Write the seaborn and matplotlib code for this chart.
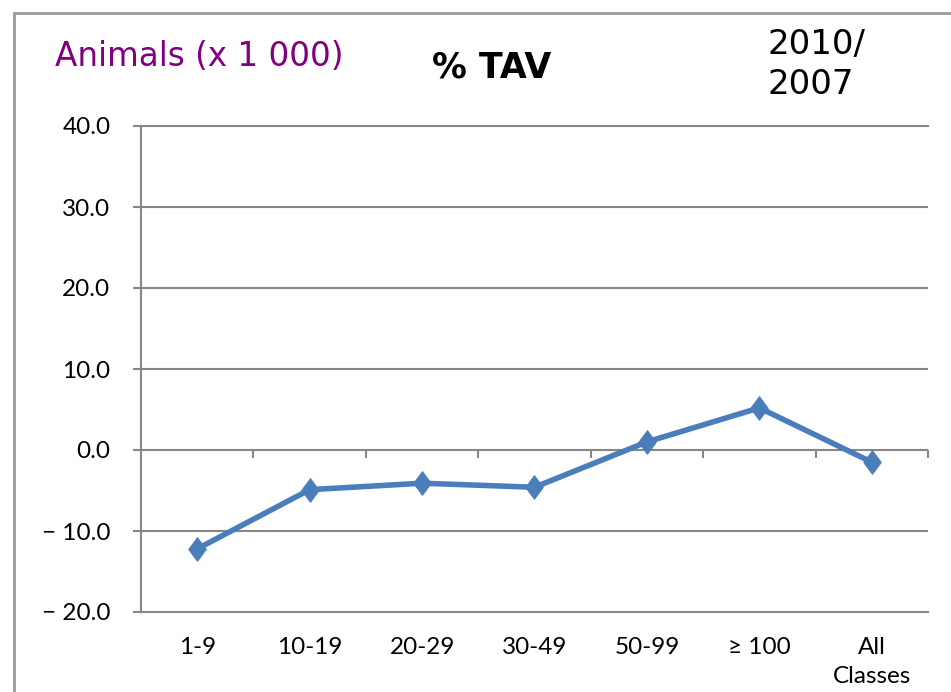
import numpy as np
import pandas as pd
import matplotlib
matplotlib.use("Agg")
import matplotlib.pyplot as plt
from matplotlib.lines import Line2D
import seaborn as sns

# data
size_classes = ["1-9", "10-19", "20-29", "30-49", "50-99", "\u2265 100", "All\nClasses"]
pct_change = [-12.2, -4.9, -4.1, -4.6, 1.0, 5.2, -1.5]
y_ticks = [-20, -10, 0, 10, 20, 30, 40]

df = pd.DataFrame({"size_class": size_classes, "change": pct_change})

sns.set_theme(style="white")
plt.rcParams["font.family"] = ["DejaVu Sans"]

grey = "#878787"
blue = "#4A7EBB"

fig = plt.figure(figsize=(9.51, 6.92), dpi=100)
ax = fig.add_axes([141 / 951, 1 - 612 / 692, (928 - 141) / 951, (612 - 126) / 692])

# tall diamond like the stretched excel marker
diamond = [(0, -1.35), (1, 0), (0, 1.35), (-1, 0), (0, -1.35)]
sns.lineplot(data=df, x="size_class", y="change", sort=False, ax=ax,
             color=blue, linewidth=4.0, marker=diamond, markersize=17,
             markeredgecolor=blue, markerfacecolor=blue)

ax.set_xlim(-0.5, len(size_classes) - 0.5)
ax.set_ylim(-20, 40)
ax.set_yticks(y_ticks)
ax.set_yticklabels([("\u2212 %.1f" % abs(v)) if v < 0 else "%.1f" % v for v in y_ticks],
                   family=["Lato", "DejaVu Sans"], fontsize=17.5)
ax.set_xticks(range(len(size_classes)))
ax.set_xticklabels(size_classes, family=["Lato", "DejaVu Sans"], fontsize=17.5,
                   linespacing=1.45)
ax.set_xlabel("")
ax.set_ylabel("")

ax.yaxis.grid(True, color=grey, linewidth=1.5)
ax.xaxis.grid(False)
ax.tick_params(axis="y", left=True, direction="out", length=6, width=1.5,
               color=grey, pad=16, labelcolor="black")
ax.tick_params(axis="x", bottom=False, length=0, pad=18, labelcolor="black")
for side in ["left", "top", "bottom"]:
    ax.spines[side].set_visible(True)
    ax.spines[side].set_color(grey)
    ax.spines[side].set_linewidth(1.5)
ax.spines["right"].set_visible(False)

# category boundary ticks on the zero line
sec = ax.secondary_xaxis(1 / 3)
sec.set_xticks(np.arange(len(size_classes)) + 0.5)
sec.tick_params(axis="x", bottom=True, top=False, labelbottom=False, labeltop=False,
                direction="out", length=6, width=1.5, color=grey)
for s in sec.spines.values():
    s.set_visible(False)

# outer frame of the slide box
fig.add_artist(Line2D([14 / 951, 14 / 951], [0, 1 - 13 / 692], color="#9a9a9a", lw=2))
fig.add_artist(Line2D([14 / 951, 1], [1 - 13 / 692, 1 - 13 / 692], color="#9a9a9a", lw=2))

fig.text(55 / 951, 1 - 57 / 692, "Animals (x 1 000)", color="#800080",
         fontsize=23.5, va="center", ha="left")
fig.text(432 / 951, 1 - 67 / 692, "% TAV", color="black", fontsize=25,
         fontweight="bold", va="center", ha="left")
fig.text(768 / 951, 1 - 28 / 692, "2010/\n2007", color="black", fontsize=24.5,
         va="top", ha="left", linespacing=1.25)

fig.savefig("out.png", dpi=100)
